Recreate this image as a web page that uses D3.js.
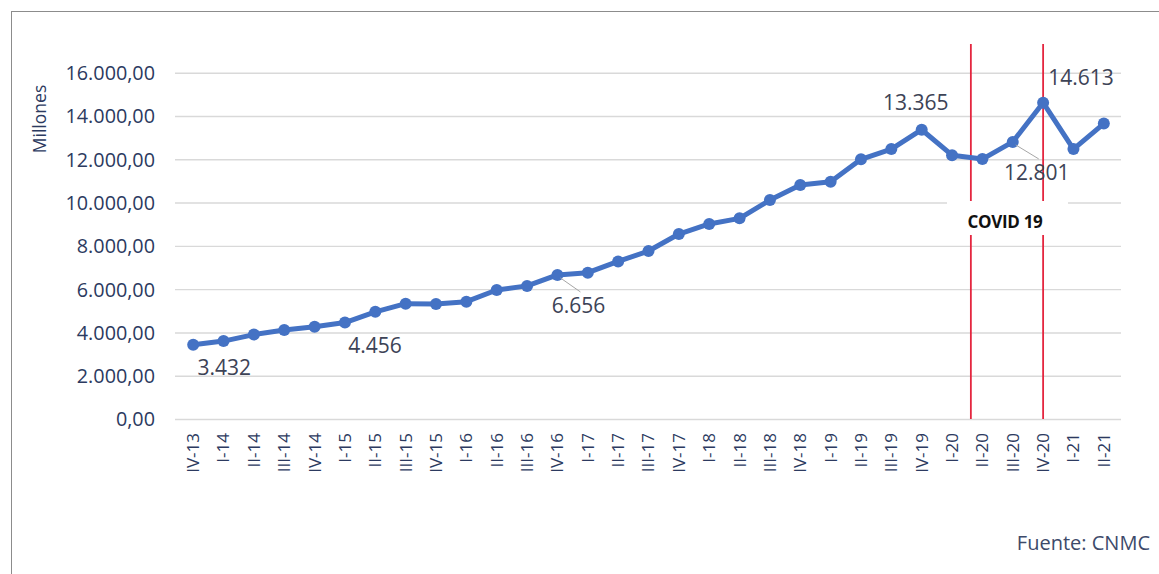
<!DOCTYPE html>
<html>
<head>
<meta charset="utf-8">
<script src="https://cdn.jsdelivr.net/npm/d3@7"></script>
<style>
  html, body { margin: 0; padding: 0; background: #fff; }
  svg { display: block; }
  text { font-family: "Open Sans", "Noto Sans", sans-serif; }
</style>
</head>
<body>
<svg id="chart" width="1159" height="574"></svg>
<script>
// Quarterly values, in millions
const categories = [
  "IV-13",
  "I-14", "II-14", "III-14", "IV-14",
  "I-15", "II-15", "III-15", "IV-15",
  "I-16", "II-16", "III-16", "IV-16",
  "I-17", "II-17", "III-17", "IV-17",
  "I-18", "II-18", "III-18", "IV-18",
  "I-19", "II-19", "III-19", "IV-19",
  "I-20", "II-20", "III-20", "IV-20",
  "I-21", "II-21"
];
const values = [
  3432,
  3600, 3900, 4110, 4260,
  4456, 4950, 5330, 5310,
  5420, 5960, 6150, 6656,
  6760, 7280, 7760, 8545,
  9010, 9270, 10115, 10810,
  10960, 12000, 12470, 13365,
  12190, 12010, 12801, 14613,
  12470, 13650
];
const yTicks = [0, 2000, 4000, 6000, 8000, 10000, 12000, 14000, 16000];
// Quarters that carry a value label
const labelledQuarters = ["IV-13", "I-15", "IV-16", "IV-19", "III-20", "IV-20"];
// COVID period bounds, in category units (index along the axis)
const covidBounds = [25.62, 28];
const covidText = "COVID 19";
const axisTitle = "Millones";
const sourceText = "Fuente: CNMC";

// Label placement relative to its point (dx, dy) and whether it has a leader line
const labelPlacement = {
  "IV-13": { dx: 31, dy: 23, leader: false },
  "I-15":  { dx: 30, dy: 23, leader: false },
  "IV-16": { dx: 21, dy: 31, leader: true },
  "IV-19": { dx: -6, dy: -27, leader: false },
  "III-20": { dx: 24, dy: 31, leader: true },
  "IV-20": { dx: 38, dy: -25, leader: false }
};

const svg = d3.select("#chart");
const W = 1159, H = 574;

// frame
svg.append("rect")
  .attr("x", 11.5).attr("y", 11.5)
  .attr("width", W + 20).attr("height", H + 20)
  .attr("fill", "none").attr("stroke", "#8c8c8c").attr("stroke-width", 1);

const plot = { left: 178, right: 1119, top: 72.7, bottom: 419 };

const x = d3.scaleBand().domain(categories).range([plot.left, plot.right]);
const step = x.step();
const cx = c => x(c) + x.bandwidth() / 2;
const y = d3.scaleLinear().domain([0, 16000]).range([plot.bottom, plot.top]);

const fmtTick = v => d3.format(",.2f")(v).replace(/,/g, "#").replace(/\./g, ",").replace(/#/g, ".");
const fmtLabel = v => d3.format(",")(v).replace(/,/g, ".");

// y labels via axis
const yAxis = d3.axisLeft(y).tickValues(yTicks).tickFormat(fmtTick).tickSize(0).tickPadding(0);
const gy = svg.append("g").attr("transform", `translate(155,0)`).call(yAxis);
gy.select(".domain").remove();
gy.selectAll("text")
  .attr("font-size", 19.8)
  .attr("fill", "#2c3a60")
  .attr("x", 0)
  .attr("dy", "0.35em")
  .attr("text-anchor", "end");

// horizontal gridlines
svg.append("g").selectAll("line")
  .data(yTicks)
  .join("line")
  .attr("x1", plot.left - 3).attr("x2", plot.right + 2)
  .attr("y1", d => y(d) + 0.5).attr("y2", d => y(d) + 0.5)
  .attr("stroke", "#d9d9d9").attr("stroke-width", 1.4);

// x axis labels
const xAxis = d3.axisBottom(x).tickSize(0).tickPadding(0);
const gx = svg.append("g").attr("transform", `translate(0,${plot.bottom})`).call(xAxis);
gx.select(".domain").remove();
gx.selectAll("text")
  .attr("font-size", 17)
  .attr("fill", "#2c3a60")
  .attr("text-anchor", "end")
  .attr("transform", "rotate(-90)")
  .attr("x", -14)
  .attr("y", 0)
  .attr("dy", "0.35em");

// COVID markers
const covidX = covidBounds.map(i => plot.left + step * (i + 0.5));
svg.append("g").selectAll("line")
  .data(covidX)
  .join("line")
  .attr("x1", d => d).attr("x2", d => d)
  .attr("y1", 44).attr("y2", plot.bottom)
  .attr("stroke", "#e4263f").attr("stroke-width", 1.8);

// label box interrupting the markers
const boxX = 947, boxW = 121, boxY = 201, boxH = 34;
svg.append("rect")
  .attr("x", boxX).attr("y", boxY).attr("width", boxW).attr("height", boxH)
  .attr("fill", "#fff");
svg.append("text")
  .attr("x", (covidX[0] + covidX[1]) / 2 - 2)
  .attr("y", 222)
  .attr("dy", "0.35em")
  .attr("text-anchor", "middle")
  .attr("font-size", 17)
  .attr("font-weight", 700)
  .attr("letter-spacing", -0.3)
  .attr("fill", "#111")
  .text(covidText);

// series line
const pts = categories.map((c, i) => ({ c, v: values[i], x: cx(c), y: y(values[i]) }));
const line = d3.line().x(d => d.x).y(d => d.y);
svg.append("path")
  .datum(pts)
  .attr("d", line)
  .attr("fill", "none")
  .attr("stroke", "#4472c4")
  .attr("stroke-width", 5)
  .attr("stroke-linejoin", "round");

svg.append("g").selectAll("circle")
  .data(pts)
  .join("circle")
  .attr("cx", d => d.x).attr("cy", d => d.y)
  .attr("r", 6)
  .attr("fill", "#4472c4");

// value labels
const labelled = pts.filter(d => labelledQuarters.includes(d.c));
svg.append("g").selectAll("line")
  .data(labelled.filter(d => labelPlacement[d.c].leader))
  .join("line")
  .attr("x1", d => d.x + 3).attr("y1", d => d.y + 3)
  .attr("x2", d => d.x + labelPlacement[d.c].dx + 2)
  .attr("y2", d => d.y + labelPlacement[d.c].dy - 14)
  .attr("stroke", "#a6a6a6").attr("stroke-width", 1);

svg.append("g").selectAll("text")
  .data(labelled)
  .join("text")
  .attr("x", d => d.x + labelPlacement[d.c].dx)
  .attr("y", d => d.y + labelPlacement[d.c].dy)
  .attr("dy", "0.35em")
  .attr("text-anchor", "middle")
  .attr("font-size", 21)
  .attr("fill", "#3d4356")
  .text(d => fmtLabel(d.v));

// axis title
svg.append("text")
  .attr("transform", "translate(40,119) rotate(-90)")
  .attr("dy", "0.35em")
  .attr("text-anchor", "middle")
  .attr("font-size", 17.5)
  .attr("fill", "#2c3a60")
  .text(axisTitle);

// source
svg.append("text")
  .attr("x", 1150).attr("y", 543)
  .attr("dy", "0.35em")
  .attr("text-anchor", "end")
  .attr("font-size", 20)
  .attr("fill", "#3d4a6a")
  .text(sourceText);
</script>
</body>
</html>
